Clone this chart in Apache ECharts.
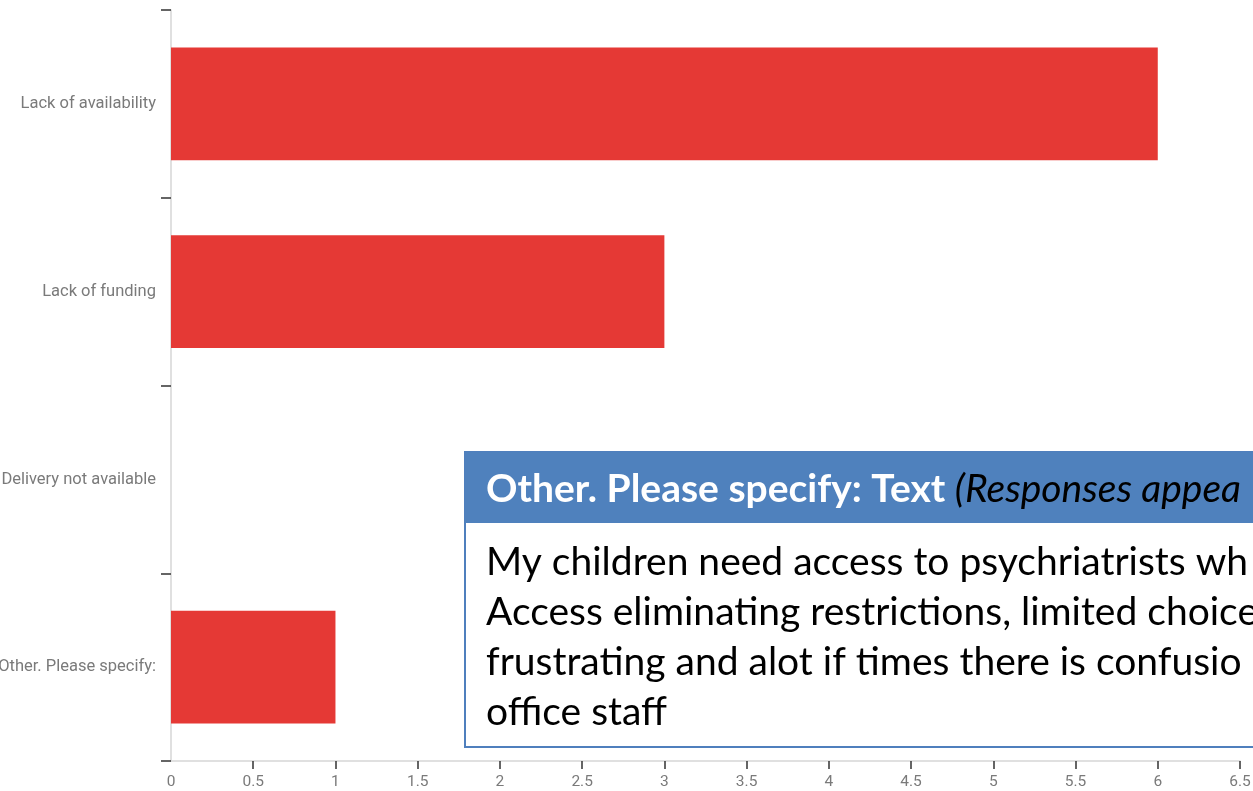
<!DOCTYPE html>
<html>
<head>
<meta charset="utf-8">
<script src="https://cdn.jsdelivr.net/npm/echarts@6/dist/echarts.min.js"></script>
<style>html,body{margin:0;padding:0;background:#fff}#c{width:1253px;height:791px}</style>
</head>
<body>
<div id="c"></div>
<script>
const categories = ["Lack of availability", "Lack of funding", "Delivery not available", "Other. Please specify:"];
const counts = [6, 3, 0, 1];
const xTicks = [0.5, 1, 1.5, 2, 2.5, 3, 3.5, 4, 4.5, 5, 5.5, 6, 6.5];
const boxTitle = "Other. Please specify: Text ";
const boxTitleNote = "(Responses appea";
const boxLines = [
  "My children need access to psychriatrists wh",
  "Access eliminating restrictions, limited choice",
  "frustrating and alot if times there is confusio",
  "office staff"
];

const chart = echarts.init(document.getElementById('c'));
const labelFont = 'Roboto, "Liberation Sans", sans-serif';
const boxFont = 'Lato, "Open Sans", sans-serif';
chart.setOption({
  animation: false,
  grid: { left: 171, top: 10, right: 13, bottom: 30, containLabel: false, outerBoundsMode: 'none' },
  xAxis: {
    type: 'value', min: 0, max: 6.5, interval: 0.5,
    splitLine: { show: false },
    axisLine: { show: true, lineStyle: { color: '#d6d6d6', width: 1.5 } },
    axisTick: { show: true, length: 8, customValues: xTicks, lineStyle: { color: '#333', width: 1.5 } },
    axisLabel: { color: '#7a7a7a', fontSize: 15.5, fontFamily: labelFont, margin: 13 }
  },
  yAxis: {
    type: 'category', data: categories, inverse: true,
    axisLine: { show: true, lineStyle: { color: '#d6d6d6', width: 1.5 } },
    axisTick: { show: true, length: 10, interval: 0, lineStyle: { color: '#333', width: 1.5 } },
    axisLabel: { color: '#7a7a7a', fontSize: 16.5, fontFamily: labelFont, margin: 15 }
  },
  series: [{
    type: 'bar', data: counts, barCategoryGap: '40%',
    itemStyle: { color: '#e53935' }
  }],
  graphic: [
    { type: 'rect', shape: { x: 465, y: 452, width: 800, height: 295 },
      style: { fill: '#fff', stroke: '#4f7fbd', lineWidth: 2 }, z: 100 },
    { type: 'rect', shape: { x: 465, y: 452, width: 800, height: 71 },
      style: { fill: '#4f81bd' }, z: 101 },
    { type: 'text', x: 486, y: 489, z: 102,
      style: {
        text: '{b|' + boxTitle + '}{i|' + boxTitleNote + '}',
        verticalAlign: 'middle',
        rich: {
          b: { fontFamily: boxFont, fontWeight: 'bold', fontSize: 39, fill: '#fff' },
          i: { fontFamily: boxFont, fontStyle: 'italic', fontSize: 39, fill: '#000' }
        }
      } },
    { type: 'text', x: 486, y: 537, z: 102,
      style: {
        text: boxLines.join('\n'),
        fontFamily: boxFont, fontSize: 39, lineHeight: 50,
        fill: '#000', verticalAlign: 'top'
      } }
  ]
});
</script>
</body>
</html>
